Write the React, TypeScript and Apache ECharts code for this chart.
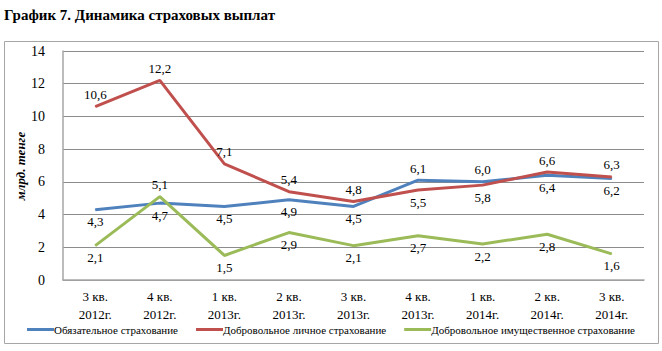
import React, { useEffect, useRef } from "react";
import * as echarts from "echarts";

const categories = [
  "3 кв.\n2012г.", "4 кв.\n2012г.", "1 кв.\n2013г.", "2 кв.\n2013г.", "3 кв.\n2013г.",
  "4 кв.\n2013г.", "1 кв.\n2014г.", "2 кв.\n2014г.", "3 кв.\n2014г.",
];
const mandatory = [4.3, 4.7, 4.5, 4.9, 4.5, 6.1, 6.0, 6.4, 6.2];
const mandatoryPos = ["bottom", "bottom", "bottom", "bottom", "bottom", "top", "top", "bottom", "bottom"];
const personal = [10.6, 12.2, 7.1, 5.4, 4.8, 5.5, 5.8, 6.6, 6.3];
const personalPos = ["top", "top", "top", "top", "top", "bottom", "bottom", "top", "top"];
const property = [2.1, 5.1, 1.5, 2.9, 2.1, 2.7, 2.2, 2.8, 1.6];
const propertyPos = ["bottom", "top", "bottom", "bottom", "bottom", "bottom", "bottom", "bottom", "bottom"];
const seriesNames = [
  "Обязательное страхование",
  "Добровольное личное страхование",
  "Добровольное имущественное страхование",
];
const colors = ["#4F81BD", "#C0504D", "#9BBB59"];

const FONT = "'Times New Roman', 'Liberation Serif', 'DejaVu Serif', serif";

function mk(name: string, vals: number[], pos: string[], color: string) {
  return {
    name,
    type: "line",
    data: vals.map((v, i) => ({
      value: v,
      label: { show: true, position: pos[i] },
    })),
    symbol: "circle",
    symbolSize: 1,
    showSymbol: true,
    lineStyle: { color, width: 3 },
    itemStyle: { color },
    label: {
      show: true,
      fontFamily: FONT,
      fontSize: 13,
      color: "#000",
      distance: 5,
      formatter: (p: any) => Number(p.value).toFixed(1).replace(".", ","),
    },
  };
}

export default function App() {
  const ref = useRef<HTMLDivElement>(null);
  useEffect(() => {
    const chart = echarts.init(ref.current!, null, { renderer: "svg" });
    chart.setOption({
      animation: false,
      backgroundColor: "#fff",
      textStyle: { fontFamily: FONT },
      graphic: [
        {
          type: "text",
          left: 4,
          top: 7,
          style: {
            text: "График 7. Динамика страховых выплат",
            fontFamily: FONT,
            fontWeight: "bold",
            fontSize: 15,
            fill: "#000",
          },
        },
        {
          type: "rect",
          shape: { x: 4.5, y: 41.5, width: 654, height: 302 },
          style: { fill: "none", stroke: "#A6A6A6", lineWidth: 1 },
          z: -1,
        },
        {
          type: "text",
          x: 20,
          y: 166,
          rotation: Math.PI / 2,
          style: {
            text: "млрд. тенге",
            fontFamily: FONT,
            fontWeight: "bold",
            fontStyle: "italic",
            fontSize: 13,
            fill: "#000",
            align: "center",
            verticalAlign: "middle",
          },
        },
      ],
      grid: { left: 63, right: 18, top: 51, bottom: 71 },
      legend: {
        bottom: 11,
        left: "center",
        itemWidth: 27,
        itemHeight: 3,
        itemGap: 18,
        icon: "rect",
        textStyle: { fontFamily: FONT, fontSize: 11, color: "#000", padding: [0, 0, 0, -5] },
        data: seriesNames,
      },
      xAxis: {
        type: "category",
        data: categories,
        boundaryGap: true,
        axisLine: { lineStyle: { color: "#A6A6A6", width: 1.5 } },
        axisTick: { show: false },
        axisLabel: {
          interval: 0,
          fontFamily: FONT,
          fontSize: 13,
          color: "#000",
          lineHeight: 18,
          margin: 7,
        },
      },
      yAxis: {
        type: "value",
        min: 0,
        max: 14,
        interval: 2,
        axisLine: { show: true, lineStyle: { color: "#A6A6A6", width: 1.5 } },
        axisTick: { show: false },
        splitLine: { lineStyle: { color: "#8C8C8C", width: 1 } },
        axisLabel: { fontFamily: FONT, fontSize: 14, color: "#000", margin: 18 },
      },
      series: [
        mk(seriesNames[0], mandatory, mandatoryPos, colors[0]),
        mk(seriesNames[1], personal, personalPos, colors[1]),
        mk(seriesNames[2], property, propertyPos, colors[2]),
      ],
    });
    return () => chart.dispose();
  }, []);
  return (
    <div
      ref={ref}
      style={{ position: "fixed", left: 0, top: 0, width: 662, height: 351 }}
    />
  );
}
